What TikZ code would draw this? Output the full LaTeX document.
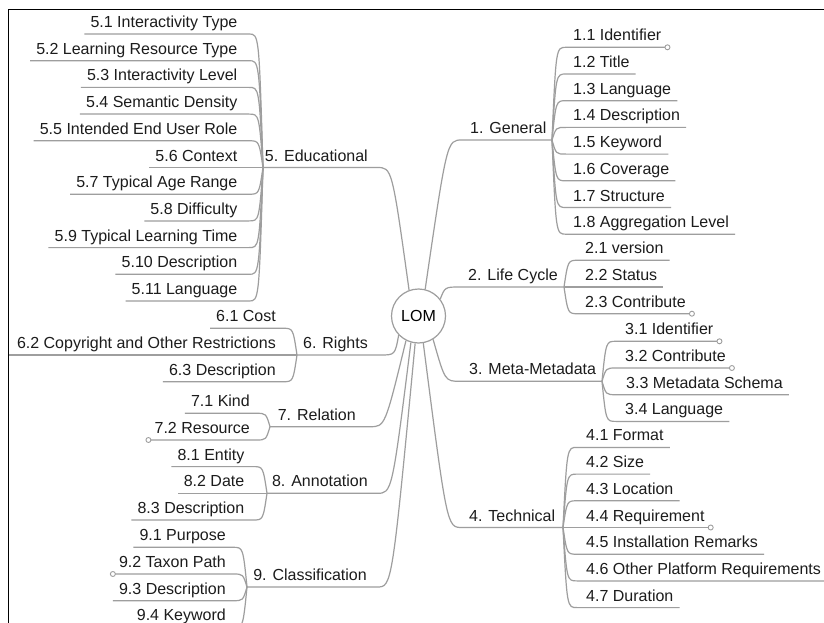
\documentclass[tikz,border=0pt]{standalone}
\usepackage{fontspec}
\setmainfont{Liberation Sans}
\usetikzlibrary{calc}
\definecolor{linegray}{RGB}{158,158,158}
\definecolor{txt}{RGB}{28,28,28}

\tikzset{
  br/.style={draw=linegray, line width=1.2pt},
  leaf/.style={inner sep=0pt, text=txt, font=\fontsize{16}{19}\selectfont},
  root/.style={circle, draw=linegray, line width=1.2pt, fill=white,
    minimum size=54pt, inner sep=0pt, font=\fontsize{16}{19}\selectfont, text=black},
  knob/.style={circle, draw=linegray, fill=white, line width=0.9pt,
    minimum size=5pt, inner sep=0pt},
  frame/.style={draw=black, line width=1.8pt}
}

% right-hand leaf: name, trunk coordinate, trunk x, row y, text x, label
\newcommand\rleaf[6]{%
  \node[leaf,anchor=base west] (#1) at (#5,#4-6.5) {#6};
  \coordinate (#1-e) at ($(#1.base east)+(6,6.5)$);
  \draw[br] (#2) .. controls (#3+4,#4) .. (#3+14,#4) -- (#1-e);}
% left-hand leaf: name, trunk coordinate, trunk x, row y, text right x, label
\newcommand\lleaf[6]{%
  \node[leaf,anchor=base east] (#1) at (#5,#4-6.5) {#6};
  \coordinate (#1-e) at ($(#1.base west)+(-6,6.5)$);
  \draw[br] (#2) .. controls (#3-4,#4) .. (#3-14,#4) -- (#1-e);}
% right-hand branch: name, y, text x, inner x, trunk x, root angle, label
\newcommand\rbranch[7]{%
  \node[leaf,anchor=base west] (#1) at (#3,#2-6.5) {#7};
  \coordinate (#1-i) at (#4,#2);
  \coordinate (#1-t) at (#5,#2);
  \draw[br] (lom.#6) .. controls (#4-15,#2) .. (#1-i) -- (#1-t);}
% left-hand branch: name, y, text right x, inner x, trunk x, root angle, label
\newcommand\lbranch[7]{%
  \node[leaf,anchor=base east] (#1) at (#3,#2-6.5) {#7};
  \coordinate (#1-i) at (#4,#2);
  \coordinate (#1-t) at (#5,#2);
  \draw[br] (lom.#6) .. controls (#4+15,#2) .. (#1-i) -- (#1-t);}

\begin{document}
\begin{tikzpicture}[x=1pt,y=-1pt]
\useasboundingbox (0,0) rectangle (824,623);
\clip (0,0) rectangle (824,623);
\fill[white] (0,0) rectangle (824,623);

% page frame
\draw[frame] (8.5,640) -- (8.5,9.5) -- (840,9.5);

% central topic
\node[root] (lom) at (418.5,316) {LOM};

% ---- 1. General
\rbranch{gen}{140}{470}{462}{552}{76}{1. General}
\rleaf{g1}{gen-t}{552}{47.3}{573}{1.1 Identifier}
\rleaf{g2}{gen-t}{552}{74}{573}{1.2 Title}
\rleaf{g3}{gen-t}{552}{100.7}{573}{1.3 Language}
\rleaf{g4}{gen-t}{552}{127.4}{573}{1.4 Description}
\rleaf{g5}{gen-t}{552}{154.1}{573}{1.5 Keyword}
\rleaf{g6}{gen-t}{552}{180.8}{573}{1.6 Coverage}
\rleaf{g7}{gen-t}{552}{207.5}{573}{1.7 Structure}
\rleaf{g8}{gen-t}{552}{234.2}{573}{1.8 Aggregation Level}

% ---- 2. Life Cycle
\rbranch{lc}{287}{468}{460}{564}{38}{2. Life Cycle}
\rleaf{l1}{lc-t}{564}{260.3}{585}{2.1 version}
\rleaf{l2}{lc-t}{564}{287}{585}{2.2 Status}
\rleaf{l3}{lc-t}{564}{313.7}{585}{2.3 Contribute}

% ---- 3. Meta-Metadata
\rbranch{mm}{381.3}{469}{460}{602}{-58}{3. Meta-Metadata}
\rleaf{m1}{mm-t}{602}{341.3}{625}{3.1 Identifier}
\rleaf{m2}{mm-t}{602}{368}{625}{3.2 Contribute}
\rleaf{m3}{mm-t}{602}{394.7}{626}{3.3 Metadata Schema}
\rleaf{m4}{mm-t}{602}{421.4}{625}{3.4 Language}

% ---- 4. Technical
\rbranch{te}{527.5}{469}{462}{563}{-80}{4. Technical}
\rleaf{t1}{te-t}{563}{447.4}{586}{4.1 Format}
\rleaf{t2}{te-t}{563}{474.1}{586}{4.2 Size}
\rleaf{t3}{te-t}{563}{500.8}{586}{4.3 Location}
\rleaf{t4}{te-t}{563}{527.5}{586}{4.4 Requirement}
\rleaf{t5}{te-t}{563}{554.2}{586}{4.5 Installation Remarks}
\rleaf{t6}{te-t}{563}{580.9}{586}{4.6 Other Platform Requirements}
\rleaf{t7}{te-t}{563}{607.6}{586}{4.7 Duration}

% ---- 5. Educational
\lbranch{ed}{167.5}{368}{377}{263}{110}{5. Educational}
\lleaf{e1}{ed-t}{263}{34}{237.5}{5.1 Interactivity Type}
\lleaf{e2}{ed-t}{263}{60.7}{237.5}{5.2 Learning Resource Type}
\lleaf{e3}{ed-t}{263}{87.4}{237.5}{5.3 Interactivity Level}
\lleaf{e4}{ed-t}{263}{114.1}{237.5}{5.4 Semantic Density}
\lleaf{e5}{ed-t}{263}{140.8}{237.5}{5.5 Intended End User Role}
\lleaf{e6}{ed-t}{263}{167.5}{237.5}{5.6 Context}
\lleaf{e7}{ed-t}{263}{194.2}{237.5}{5.7 Typical Age Range}
\lleaf{e8}{ed-t}{263}{220.9}{237.5}{5.8 Difficulty}
\lleaf{e9}{ed-t}{263}{247.6}{237.5}{5.9 Typical Learning Time}
\lleaf{e10}{ed-t}{263}{274.3}{237.5}{5.10 Description}
\lleaf{e11}{ed-t}{263}{301}{237.5}{5.11 Language}

% ---- 6. Rights
\lbranch{ri}{355}{368}{380}{297}{-136}{6. Rights}
\lleaf{r1}{ri-t}{297}{328.3}{276}{6.1 Cost}
\lleaf{r2}{ri-t}{297}{355}{276}{6.2 Copyright and Other Restrictions}
\lleaf{r3}{ri-t}{297}{381.7}{276}{6.3 Description}
\coordinate (fl) at (8.5,0);
\draw[br] (r2-e) -- (r2-e -| fl);

% ---- 7. Relation
\lbranch{re}{426.7}{356}{370}{270}{-117}{7. Relation}
\lleaf{x1}{re-t}{270}{413.3}{250}{7.1 Kind}
\lleaf{x2}{re-t}{270}{440}{250}{7.2 Resource}

% ---- 8. Annotation
\lbranch{an}{493.3}{368}{377}{267}{-106}{8. Annotation}
\lleaf{a1}{an-t}{267}{466.6}{244.5}{8.1 Entity}
\lleaf{a2}{an-t}{267}{493.3}{244.5}{8.2 Date}
\lleaf{a3}{an-t}{267}{520}{244.5}{8.3 Description}

% ---- 9. Classification
\lbranch{cl}{587}{367}{377}{247}{-97}{9. Classification}
\lleaf{c1}{cl-t}{247}{547.3}{226}{9.1 Purpose}
\lleaf{c2}{cl-t}{247}{574}{226}{9.2 Taxon Path}
\lleaf{c3}{cl-t}{247}{600.7}{226}{9.3 Description}
\lleaf{c4}{cl-t}{247}{627.4}{226}{9.4 Keyword}

% collapsed-topic markers
\foreach \k in {g1,l3,m1,m2,t4,x2,c2}
  \node[knob] at (\k-e) {};
\end{tikzpicture}
\end{document}
